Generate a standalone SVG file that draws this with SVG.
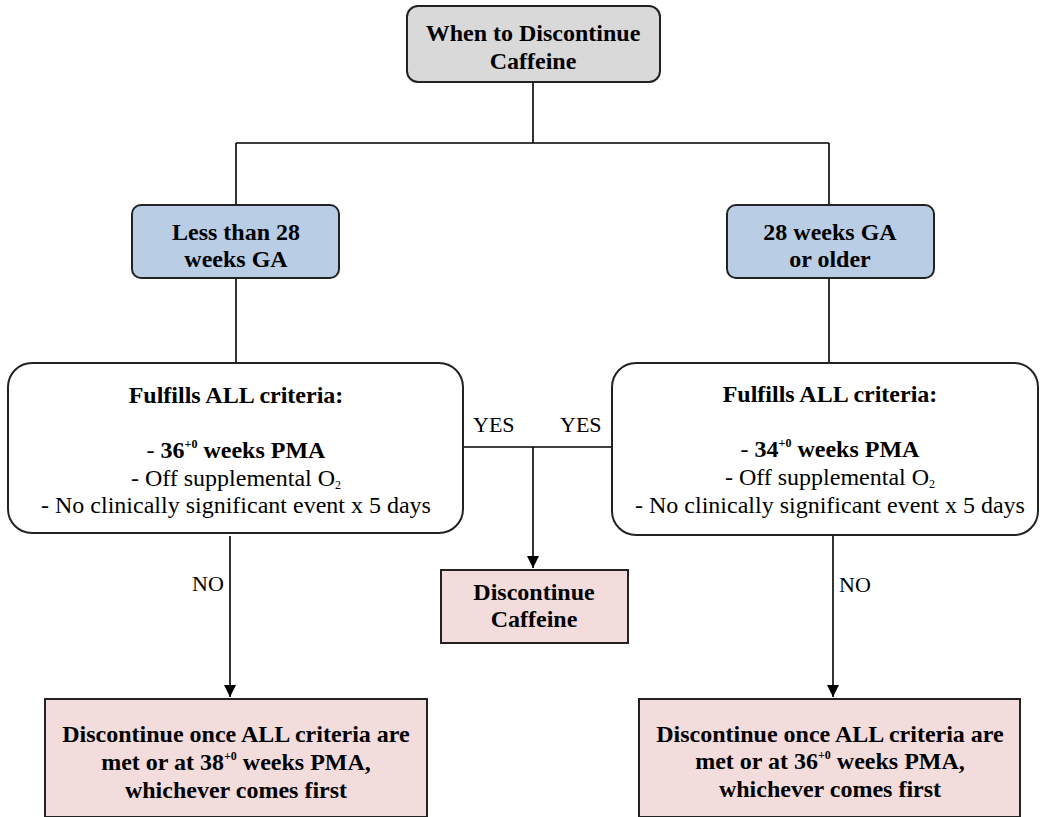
<svg xmlns="http://www.w3.org/2000/svg" width="1040" height="817" viewBox="0 0 1040 817" font-family="'Liberation Serif', 'DejaVu Serif', serif">
  <defs>
    <marker id="arrow" viewBox="0 0 12 12" refX="12" refY="6" markerWidth="12" markerHeight="12" markerUnits="userSpaceOnUse" orient="auto">
      <path d="M0,0 L12,6 L0,12 Z" fill="#000"/>
    </marker>
    <style>
      .box { stroke: #222; stroke-width: 2; }
      .gray { fill: #d9d9d9; }
      .blue { fill: #b9cde4; }
      .pink { fill: #f2dcdc; }
      .white { fill: #fff; }
      .conn { fill: none; stroke: #000; stroke-width: 1.6; }
      text { font-family: 'Liberation Serif', 'DejaVu Serif', serif; fill: #000; text-anchor: middle; }
      .b { font-size: 24px; font-weight: bold; }
      .r { font-size: 24px; }
      .lbl { font-size: 22px; text-anchor: start; }
      .sup { font-size: 12px; }
    </style>
  </defs>

  <rect width="1040" height="817" fill="#fff"/>

  <!-- connectors -->
  <g id="connectors">
    <path class="conn" d="M533,82 V143 M236,143 H829 M236,143 V205 M829,143 V205"/>
    <path class="conn" d="M236,278 V363 M829,278 V363"/>
    <path class="conn" d="M463,447 H612"/>
    <path class="conn" d="M533,447 V568" marker-end="url(#arrow)"/>
    <path class="conn" d="M230,536 V697" marker-end="url(#arrow)"/>
    <path class="conn" d="M833,536 V697" marker-end="url(#arrow)"/>
    <text class="lbl" x="473" y="432">YES</text>
    <text class="lbl" x="560" y="432">YES</text>
    <text class="lbl" x="192" y="591">NO</text>
    <text class="lbl" x="839" y="592">NO</text>
  </g>

  <!-- top node -->
  <g id="start">
    <rect class="box gray" x="407" y="6" width="253" height="76" rx="11"/>
    <text class="b" x="533" y="41">When to Discontinue</text>
    <text class="b" x="533" y="69">Caffeine</text>
  </g>

  <!-- gestational age branches -->
  <g id="ga-under-28">
    <rect class="box blue" x="132" y="205" width="207" height="73" rx="9"/>
    <text class="b" x="236" y="240">Less than 28</text>
    <text class="b" x="236" y="267">weeks GA</text>
  </g>
  <g id="ga-28-plus">
    <rect class="box blue" x="727" y="205" width="207" height="73" rx="9"/>
    <text class="b" x="830" y="240">28 weeks GA</text>
    <text class="b" x="830" y="267">or older</text>
  </g>

  <!-- criteria boxes -->
  <g id="criteria-left">
    <rect class="box white" x="8" y="363" width="455" height="170" rx="24"/>
    <text class="b" x="236" y="403">Fulfills ALL criteria:</text>
    <text class="r" x="236" y="458">- <tspan font-weight="bold">36<tspan class="sup" dy="-10">+0</tspan><tspan dy="10"> weeks PMA</tspan></tspan></text>
    <text class="r" x="236" y="486">- Off supplemental O<tspan class="sup" dy="3">2</tspan></text>
    <text class="r" x="236" y="513">- No clinically significant event x 5 days</text>
  </g>
  <g id="criteria-right">
    <rect class="box white" x="612" y="363" width="426" height="172" rx="24"/>
    <text class="b" x="830" y="402">Fulfills ALL criteria:</text>
    <text class="r" x="830" y="457">- <tspan font-weight="bold">34<tspan class="sup" dy="-10">+0</tspan><tspan dy="10"> weeks PMA</tspan></tspan></text>
    <text class="r" x="830" y="485">- Off supplemental O<tspan class="sup" dy="3">2</tspan></text>
    <text class="r" x="830" y="513">- No clinically significant event x 5 days</text>
  </g>

  <!-- outcomes -->
  <g id="discontinue">
    <rect class="box pink" x="441" y="570" width="187" height="73"/>
    <text class="b" x="534" y="600">Discontinue</text>
    <text class="b" x="534" y="627">Caffeine</text>
  </g>
  <g id="outcome-left">
    <rect class="box pink" x="45" y="699" width="382" height="118"/>
    <text class="b" x="236" y="742">Discontinue once ALL criteria are</text>
    <text class="b" x="236" y="770">met or at 38<tspan class="sup" dy="-10">+0</tspan><tspan dy="10"> weeks PMA,</tspan></text>
    <text class="b" x="236" y="798">whichever comes first</text>
  </g>
  <g id="outcome-right">
    <rect class="box pink" x="639" y="699" width="381" height="118"/>
    <text class="b" x="830" y="742">Discontinue once ALL criteria are</text>
    <text class="b" x="830" y="769">met or at 36<tspan class="sup" dy="-10">+0</tspan><tspan dy="10"> weeks PMA,</tspan></text>
    <text class="b" x="830" y="797">whichever comes first</text>
  </g>
</svg>
